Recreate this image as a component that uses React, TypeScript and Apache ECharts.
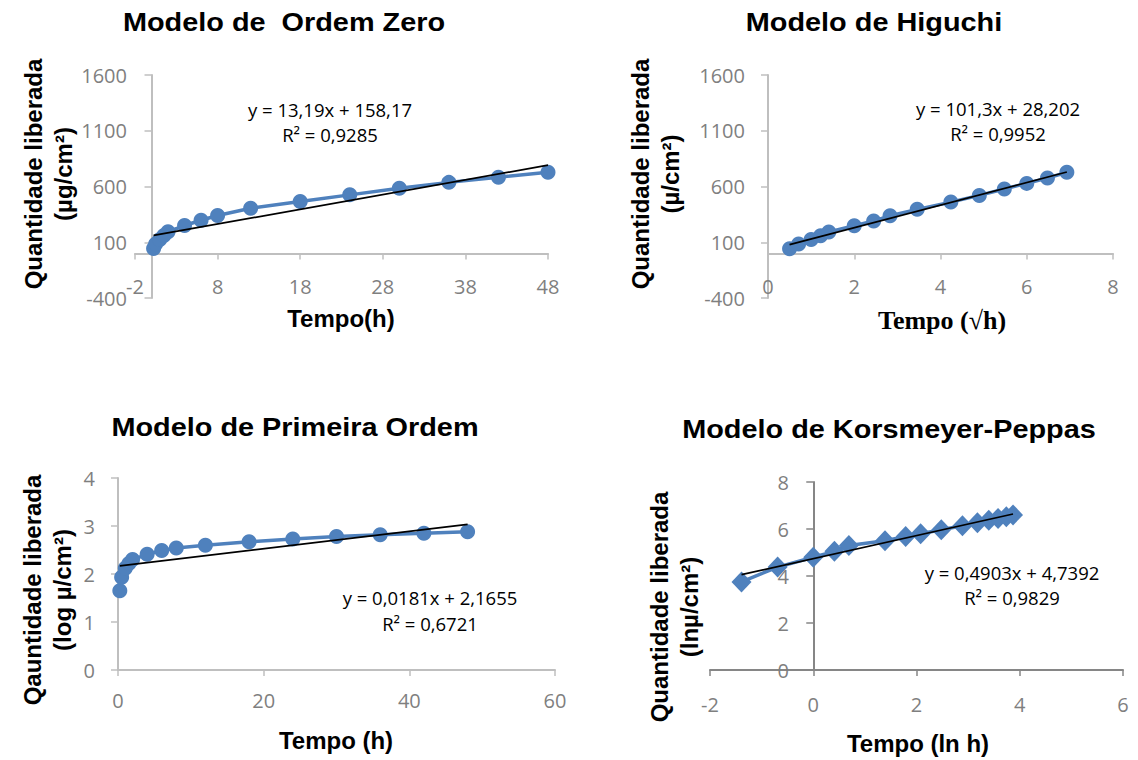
import React, { useEffect, useRef } from "react";
import * as echarts from "echarts";

// ---- Data ----
const zeroX = [0.25, 0.5, 1, 1.5, 2, 4, 6, 8, 12, 18, 24, 30, 36, 42, 48];
const zeroY = [45, 85, 125, 160, 195, 250, 297, 340, 405, 465, 525, 585, 637, 683, 728];
const zeroTrendX = [0.25, 48];
const zeroTrendY = [161.5, 791.3];

const higuchiX = [0.5, 0.71, 1, 1.22, 1.41, 2, 2.45, 2.83, 3.46, 4.24, 4.9, 5.48, 6, 6.48, 6.93];
const higuchiY = [42, 85, 124, 158, 192, 249, 290, 338, 395, 460, 520, 578, 628, 676, 727];
const higuchiTrendX = [0.5, 6.93];
const higuchiTrendY = [78.9, 730.2];

const firstX = [0.25, 0.5, 1, 1.5, 2, 4, 6, 8, 12, 18, 24, 30, 36, 42, 48];
const firstY = [1.65, 1.93, 2.12, 2.22, 2.3, 2.41, 2.49, 2.54, 2.6, 2.67, 2.73, 2.78, 2.82, 2.85, 2.88];
const firstTrendX = [0.25, 48];
const firstTrendY = [2.17, 3.034];

const kpX = [-1.39, -0.69, 0, 0.41, 0.69, 1.39, 1.79, 2.08, 2.48, 2.89, 3.18, 3.4, 3.58, 3.74, 3.87];
const kpY = [3.75, 4.38, 4.8, 5.05, 5.3, 5.5, 5.68, 5.8, 5.97, 6.14, 6.27, 6.37, 6.45, 6.52, 6.6];
const kpTrendX = [-1.39, 3.87];
const kpTrendY = [4.058, 6.637];

const titles = [
  "Modelo de  Ordem Zero",
  "Modelo de Higuchi",
  "Modelo de Primeira Ordem",
  "Modelo de Korsmeyer-Peppas",
];
const yTitles = [
  "Quantidade liberada\n(µg/cm²)",
  "Quantidade liberada\n(µ/cm²)",
  "Qauntidade liberada\n(log µ/cm²)",
  "Quantidade liberada\n(lnµ/cm²)",
];
const xTitles = ["Tempo(h)", "Tempo (√h)", "Tempo (h)", "Tempo (ln h)"];
const equations = [
  "y = 13,19x + 158,17\nR² = 0,9285",
  "y = 101,3x + 28,202\nR² = 0,9952",
  "y = 0,0181x + 2,1655\nR² = 0,6721",
  "y = 0,4903x + 4,7392\nR² = 0,9829",
];

const BLUE = "#4f81bd";
const LABEL = "#7f7f7f";
const SANS = '"Liberation Sans", Arial, sans-serif';
const TICKFONT = '"Open Sans", "Noto Sans", sans-serif';

function pairs(xs: number[], ys: number[]) {
  return xs.map((x, i) => [x, ys[i]]);
}

const plain = (v: number) => String(v);

function xAxis(gridIndex: number, min: number, max: number, interval: number, color: string, margin: number) {
  return {
    type: "value",
    gridIndex,
    min,
    max,
    interval,
    axisLine: { show: true, onZero: true, lineStyle: { color, width: 2 } },
    axisTick: { show: true, length: 6, lineStyle: { color, width: 1.5 } },
    axisLabel: {
      color: LABEL,
      fontSize: 20,
      fontFamily: TICKFONT,
      margin,
      formatter: plain,
      showMinLabel: true,
      showMaxLabel: true,
    },
    splitLine: { show: false },
  };
}

function yAxis(gridIndex: number, min: number, max: number, interval: number, color: string, margin: number) {
  return {
    type: "value",
    gridIndex,
    min,
    max,
    interval,
    axisLine: { show: true, onZero: true, lineStyle: { color, width: 2 } },
    axisTick: { show: true, length: 7, lineStyle: { color, width: 1.5 } },
    axisLabel: {
      color: LABEL,
      fontSize: 20,
      fontFamily: TICKFONT,
      margin,
      formatter: plain,
      showMinLabel: true,
      showMaxLabel: true,
    },
    splitLine: { show: false },
  };
}

function dataSeries(i: number, xs: number[], ys: number[], symbol: string, size: any) {
  return {
    type: "line",
    xAxisIndex: i,
    yAxisIndex: i,
    data: pairs(xs, ys),
    symbol,
    symbolSize: size,
    lineStyle: { color: BLUE, width: 3.5 },
    itemStyle: { color: BLUE },
    z: 2,
  };
}

function trendSeries(i: number, xs: number[], ys: number[]) {
  return {
    type: "line",
    xAxisIndex: i,
    yAxisIndex: i,
    data: pairs(xs, ys),
    symbol: "none",
    lineStyle: { color: "#000000", width: 1.7 },
    z: 3,
  };
}

function txt(x: number, y: number, text: string, font: string, extra: any = {}) {
  return {
    type: "text",
    x,
    y,
    ...extra,
    style: {
      text,
      font,
      fill: "#000000",
      textAlign: "center",
      textVerticalAlign: "middle",
      align: "center",
      verticalAlign: "middle",
      ...(extra.style || {}),
    },
  };
}

export default function App() {
  const ref = useRef<HTMLDivElement>(null);
  useEffect(() => {
    if (!ref.current) return;
    const chart = echarts.init(ref.current, undefined, { renderer: "svg" });
    const axisLight = "#bfbfbf";
    const axisDark = "#868686";
    const titleFont = `bold 26px ${SANS}`;
    const axTitleFont = `bold 24px ${SANS}`;
    const eqFont = `18.5px ${TICKFONT}`;
    const rot = Math.PI / 2;
    chart.setOption({
      animation: false,
      backgroundColor: "#ffffff",
      grid: [
        { left: 135, top: 75, width: 413, height: 223 },
        { left: 768, top: 75, width: 345, height: 223 },
        { left: 118, top: 478, width: 437, height: 192 },
        { left: 710, top: 482, width: 413, height: 188 },
      ],
      xAxis: [
        xAxis(0, -2, 48, 10, axisLight, -22),
        xAxis(1, 0, 8, 2, axisLight, -22),
        xAxis(2, 0, 60, 20, axisLight, 20),
        xAxis(3, -2, 6, 2, axisDark, 24),
      ],
      yAxis: [
        yAxis(0, -400, 1600, 500, axisLight, 8),
        yAxis(1, -400, 1600, 500, axisLight, 23),
        yAxis(2, 0, 4, 1, axisLight, 23),
        yAxis(3, 0, 8, 2, axisDark, -79),
      ],
      series: [
        dataSeries(0, zeroX, zeroY, "circle", 15),
        trendSeries(0, zeroTrendX, zeroTrendY),
        dataSeries(1, higuchiX, higuchiY, "circle", 15),
        trendSeries(1, higuchiTrendX, higuchiTrendY),
        dataSeries(2, firstX, firstY, "circle", 15),
        trendSeries(2, firstTrendX, firstTrendY),
        dataSeries(3, kpX, kpY, "diamond", [20, 21]),
        trendSeries(3, kpTrendX, kpTrendY),
      ],
      graphic: [
        txt(284, 22, titles[0], titleFont, { scaleX: 1.11 }),
        txt(874, 22, titles[1], titleFont, { scaleX: 1.11 }),
        txt(295, 427, titles[2], titleFont, { scaleX: 1.11 }),
        txt(889, 429, titles[3], titleFont, { scaleX: 1.11 }),
        txt(48, 174, yTitles[0], axTitleFont, { rotation: rot, style: { lineHeight: 30 } }),
        txt(655, 174, yTitles[1], axTitleFont, { rotation: rot, style: { lineHeight: 30 } }),
        txt(47, 590, yTitles[2], axTitleFont, { rotation: rot, style: { lineHeight: 30 } }),
        txt(674, 607, yTitles[3], axTitleFont, { rotation: rot, style: { lineHeight: 30 } }),
        txt(341, 318, xTitles[0], axTitleFont),
        txt(942, 320, xTitles[1], `bold 26px "Liberation Serif", "Times New Roman", serif`),
        txt(336, 740, xTitles[2], axTitleFont),
        txt(918, 743, xTitles[3], axTitleFont),
        txt(330, 122, equations[0], eqFont, { style: { lineHeight: 25 } }),
        txt(998, 121, equations[1], eqFont, { style: { lineHeight: 25 } }),
        txt(430, 610, equations[2], eqFont, { style: { lineHeight: 26 } }),
        txt(1012, 585, equations[3], eqFont, { style: { lineHeight: 25 } }),
      ],
    });
    return () => chart.dispose();
  }, []);
  return (
    <div
      ref={ref}
      style={{ position: "absolute", left: 0, top: 0, width: 1138, height: 760, background: "#fff" }}
    />
  );
}
